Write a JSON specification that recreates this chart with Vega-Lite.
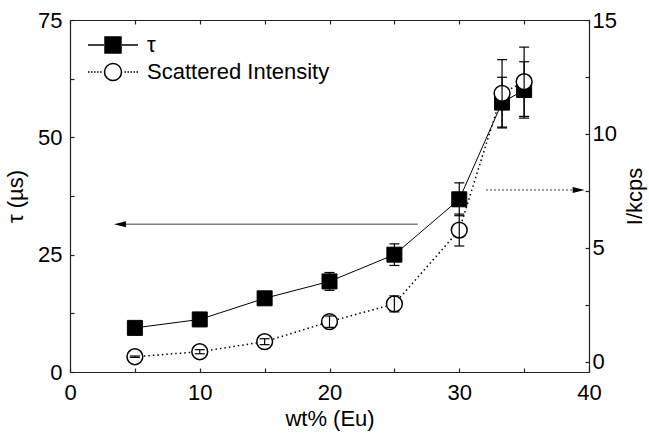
{
  "$schema": "https://vega.github.io/schema/vega-lite/v6.json",
  "width": 519,
  "height": 352,
  "autosize": {"type": "none"},
  "padding": {"left": 70, "top": 20, "right": 60, "bottom": 63},
  "background": "white",
  "config": {
    "view": {"stroke": null},
    "font": "Liberation Sans",
    "axis": {
      "labelFont": "Liberation Sans",
      "titleFont": "Liberation Sans",
      "labelFontSize": 22,
      "titleFontSize": 22,
      "titleFontWeight": "normal",
      "labelColor": "black",
      "titleColor": "black",
      "domainColor": "#222",
      "tickColor": "#222",
      "domainWidth": 1.2,
      "tickWidth": 1.2,
      "tickSize": -4,
      "grid": false,
      "labelFlush": false,
      "labelOverlap": false
    }
  },
  "datasets": {
    "tau": [
      {"wt": 5, "tau": 9.4, "lo": 8.9, "hi": 9.9},
      {"wt": 10, "tau": 11.2, "lo": 10.6, "hi": 11.8},
      {"wt": 15, "tau": 15.7, "lo": 14.5, "hi": 16.9},
      {"wt": 20, "tau": 19.3, "lo": 17.4, "hi": 21.2},
      {"wt": 25, "tau": 25.0, "lo": 22.7, "hi": 27.3},
      {"wt": 30, "tau": 36.8, "lo": 33.3, "hi": 40.3},
      {"wt": 33.3, "tau": 57.4, "lo": 52.0, "hi": 62.8},
      {"wt": 35, "tau": 60.1, "lo": 54.1, "hi": 66.1}
    ],
    "intensity": [
      {"wt": 5, "I": 0.22, "lo": 0.19, "hi": 0.25},
      {"wt": 10, "I": 0.44, "lo": 0.35, "hi": 0.53},
      {"wt": 15, "I": 0.88, "lo": 0.75, "hi": 1.01},
      {"wt": 20, "I": 1.76, "lo": 1.51, "hi": 2.01},
      {"wt": 25, "I": 2.54, "lo": 2.19, "hi": 2.89},
      {"wt": 30, "I": 5.78, "lo": 5.08, "hi": 6.48},
      {"wt": 33.3, "I": 11.78, "lo": 10.3, "hi": 13.26},
      {"wt": 35, "I": 12.29, "lo": 10.77, "hi": 13.81}
    ],
    "tauArrow": [{"from": 26.8, "to": 4.3, "head": 3.85, "level": 31.5}],
    "intensityArrow": [{"from": 32.06, "to": 38.9, "head": 39.2, "level": 7.54}],
    "legendKeys": [{"series": "τ"}, {"series": "Scattered Intensity"}]
  },
  "layer": [
    {
      "data": {"name": "tau"},
      "layer": [
        {
          "mark": {"type": "line", "color": "black", "strokeWidth": 1},
          "encoding": {
            "x": {
              "field": "wt", "type": "quantitative",
              "scale": {"domain": [0, 40], "nice": false},
              "axis": {
                "orient": "bottom",
                "values": [0, 5, 10, 15, 20, 25, 30, 35, 40],
                "labelExpr": "datum.value % 10 === 0 ? datum.label : ''",
                "title": "wt% (Eu)",
                "labelPadding": 14,
                "titlePadding": 5
              }
            },
            "y": {
              "field": "tau", "type": "quantitative",
              "scale": {"domain": [0, 75], "nice": false},
              "axis": {
                "orient": "left",
                "values": [0, 12.5, 25, 37.5, 50, 62.5, 75],
                "labelExpr": "datum.value % 25 === 0 ? datum.label : ''",
                "title": "τ (µs)",
                "labelPadding": 12,
                "titlePadding": 10
              }
            }
          }
        },
        {
          "mark": {"type": "rule", "color": "black", "strokeWidth": 1.2},
          "encoding": {
            "x": {"field": "wt", "type": "quantitative", "scale": {"domain": [0, 40], "nice": false}},
            "y": {"field": "lo", "type": "quantitative", "scale": {"domain": [0, 75], "nice": false}},
            "y2": {"field": "hi"}
          }
        },
        {
          "mark": {"type": "tick", "orient": "horizontal", "size": 10, "thickness": 1.2, "color": "black", "opacity": 1},
          "encoding": {
            "x": {"field": "wt", "type": "quantitative", "scale": {"domain": [0, 40], "nice": false}},
            "y": {"field": "lo", "type": "quantitative", "scale": {"domain": [0, 75], "nice": false}}
          }
        },
        {
          "mark": {"type": "tick", "orient": "horizontal", "size": 10, "thickness": 1.2, "color": "black", "opacity": 1},
          "encoding": {
            "x": {"field": "wt", "type": "quantitative", "scale": {"domain": [0, 40], "nice": false}},
            "y": {"field": "hi", "type": "quantitative", "scale": {"domain": [0, 75], "nice": false}}
          }
        },
        {
          "mark": {"type": "point", "shape": "square", "filled": true, "fill": "black", "stroke": "black", "strokeWidth": 1, "size": 225, "opacity": 1},
          "encoding": {
            "x": {"field": "wt", "type": "quantitative", "scale": {"domain": [0, 40], "nice": false}},
            "y": {"field": "tau", "type": "quantitative", "scale": {"domain": [0, 75], "nice": false}}
          }
        },
        {
          "data": {"name": "tauArrow"},
          "mark": {"type": "rule", "color": "#808080", "strokeWidth": 1.5},
          "encoding": {
            "x": {"field": "from", "type": "quantitative", "scale": {"domain": [0, 40], "nice": false}},
            "x2": {"field": "to"},
            "y": {"field": "level", "type": "quantitative", "scale": {"domain": [0, 75], "nice": false}}
          }
        },
        {
          "data": {"name": "tauArrow"},
          "mark": {"type": "point", "shape": "M-1,0L1,-0.5L1,0.5Z", "filled": true, "fill": "black", "strokeWidth": 0, "size": 144, "opacity": 1},
          "encoding": {
            "x": {"field": "head", "type": "quantitative", "scale": {"domain": [0, 40], "nice": false}},
            "y": {"field": "level", "type": "quantitative", "scale": {"domain": [0, 75], "nice": false}}
          }
        }
      ]
    },
    {
      "data": {"name": "intensity"},
      "layer": [
        {
          "mark": {"type": "line", "color": "black", "strokeWidth": 1.5, "strokeDash": [1.5, 3]},
          "encoding": {
            "x": {
              "field": "wt", "type": "quantitative",
              "scale": {"domain": [0, 40], "nice": false},
              "axis": {
                "orient": "top",
                "values": [0, 5, 10, 15, 20, 25, 30, 35, 40],
                "labels": false,
                "title": null
              }
            },
            "y": {
              "field": "I", "type": "quantitative",
              "scale": {"domain": [-0.45, 15], "nice": false, "zero": false},
              "axis": {
                "orient": "right",
                "values": [0, 2.5, 5, 7.5, 10, 12.5, 15],
                "labelExpr": "datum.value % 5 === 0 ? datum.label : ''",
                "title": "I/kcps",
                "titleAngle": -90,
                "titleBaseline": "top",
                "labelPadding": 7,
                "titlePadding": 8
              }
            }
          }
        },
        {
          "mark": {"type": "point", "shape": "circle", "filled": true, "fill": "white", "stroke": "black", "strokeWidth": 1.5, "size": 250, "opacity": 1},
          "encoding": {
            "x": {"field": "wt", "type": "quantitative", "scale": {"domain": [0, 40], "nice": false}},
            "y": {"field": "I", "type": "quantitative", "scale": {"domain": [-0.45, 15], "nice": false, "zero": false}}
          }
        },
        {
          "mark": {"type": "rule", "color": "black", "strokeWidth": 1.2},
          "encoding": {
            "x": {"field": "wt", "type": "quantitative", "scale": {"domain": [0, 40], "nice": false}},
            "y": {"field": "lo", "type": "quantitative", "scale": {"domain": [-0.45, 15], "nice": false, "zero": false}},
            "y2": {"field": "hi"}
          }
        },
        {
          "mark": {"type": "tick", "orient": "horizontal", "size": 10, "thickness": 1.2, "color": "black", "opacity": 1},
          "encoding": {
            "x": {"field": "wt", "type": "quantitative", "scale": {"domain": [0, 40], "nice": false}},
            "y": {"field": "lo", "type": "quantitative", "scale": {"domain": [-0.45, 15], "nice": false, "zero": false}}
          }
        },
        {
          "mark": {"type": "tick", "orient": "horizontal", "size": 10, "thickness": 1.2, "color": "black", "opacity": 1},
          "encoding": {
            "x": {"field": "wt", "type": "quantitative", "scale": {"domain": [0, 40], "nice": false}},
            "y": {"field": "hi", "type": "quantitative", "scale": {"domain": [-0.45, 15], "nice": false, "zero": false}}
          }
        },
        {
          "data": {"name": "intensityArrow"},
          "mark": {"type": "rule", "color": "#808080", "strokeWidth": 1.5, "strokeDash": [2, 2]},
          "encoding": {
            "x": {"field": "from", "type": "quantitative", "scale": {"domain": [0, 40], "nice": false}},
            "x2": {"field": "to"},
            "y": {"field": "level", "type": "quantitative", "scale": {"domain": [-0.45, 15], "nice": false, "zero": false}}
          }
        },
        {
          "data": {"name": "intensityArrow"},
          "mark": {"type": "point", "shape": "M1,0L-1,-0.5L-1,0.5Z", "filled": true, "fill": "black", "strokeWidth": 0, "size": 144, "opacity": 1},
          "encoding": {
            "x": {"field": "head", "type": "quantitative", "scale": {"domain": [0, 40], "nice": false}},
            "y": {"field": "level", "type": "quantitative", "scale": {"domain": [-0.45, 15], "nice": false, "zero": false}}
          }
        }
      ]
    },
    {
      "data": {"name": "legendKeys"},
      "mark": {"type": "point", "filled": true, "stroke": "black", "strokeWidth": 1.5, "size": 400, "opacity": 0},
      "encoding": {
        "shape": {
          "field": "series", "type": "nominal",
          "scale": {
            "domain": ["τ", "Scattered Intensity"],
            "range": [
              "M-2.5,0H-0.9M-0.8,-0.8H0.8V0.8H-0.8ZM0.9,0H2.5",
              "M-2.5,0h0.15M-2.2,0h0.15M-1.9,0h0.15M-1.6,0h0.15M-1.3,0h0.15M0.85,0A0.85,0.85,0,1,1,-0.85,0A0.85,0.85,0,1,1,0.85,0ZM1.15,0h0.15M1.45,0h0.15M1.75,0h0.15M2.05,0h0.15M2.35,0h0.15"
            ]
          },
          "legend": {
            "title": null,
            "orient": "none",
            "legendX": 32,
            "legendY": 14,
            "padding": 0,
            "rowPadding": 4,
            "symbolSize": 400,
            "symbolOpacity": 1,
            "symbolStrokeWidth": 1.5,
            "labelOffset": 23,
            "labelFont": "Liberation Sans",
            "labelFontSize": 22,
            "labelColor": "black",
            "labelLimit": 300
          }
        },
        "fill": {
          "field": "series", "type": "nominal",
          "scale": {"domain": ["τ", "Scattered Intensity"], "range": ["black", "white"]},
          "legend": {
            "title": null,
            "orient": "none",
            "legendX": 32,
            "legendY": 14,
            "padding": 0,
            "rowPadding": 4,
            "symbolSize": 400,
            "symbolOpacity": 1,
            "symbolStrokeWidth": 1.5,
            "labelOffset": 23,
            "labelFont": "Liberation Sans",
            "labelFontSize": 22,
            "labelColor": "black",
            "labelLimit": 300
          }
        }
      }
    }
  ],
  "resolve": {"scale": {"y": "independent"}, "axis": {"x": "independent"}}
}
